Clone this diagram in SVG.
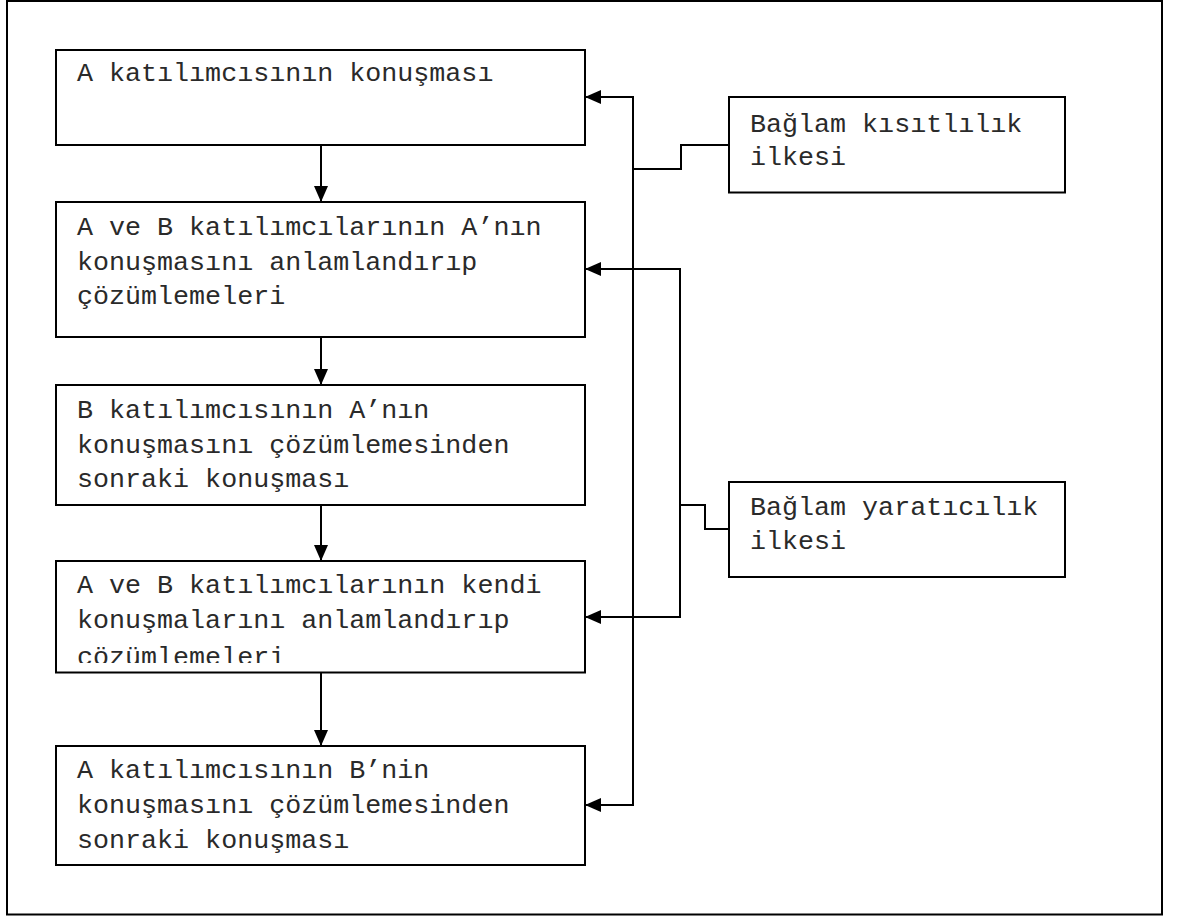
<svg xmlns="http://www.w3.org/2000/svg" width="1179" height="917" viewBox="0 0 1179 917">
  <style>
    .box { fill: #ffffff; stroke: #000000; stroke-width: 2; }
    .frame { fill: #ffffff; stroke: #000000; stroke-width: 2; }
    .lbl { font-family: "Liberation Mono", "Courier New", monospace; font-size: 26.7px; fill: #2a2a2a; }
    .wire { fill: none; stroke: #000000; stroke-width: 2; }
    .arrow { fill: none; stroke: #000000; stroke-width: 2; marker-end: url(#head); }
  </style>
  <defs>
    <marker id="head" viewBox="0 0 16 14" refX="16" refY="7" markerWidth="16" markerHeight="14" markerUnits="userSpaceOnUse" orient="auto">
      <path d="M0,0 L16,7 L0,14 Z" fill="#000000"/>
    </marker>
    <clipPath id="clip4">
      <rect x="56" y="561" width="529" height="102"/>
    </clipPath>
  </defs>

  <rect class="frame" x="7" y="1" width="1155" height="913.5"/>

  <!-- process steps -->
  <g id="step1">
    <rect class="box" x="56" y="50" width="529" height="95"/>
    <text class="lbl" x="77" y="80.7">A katılımcısının konuşması</text>
  </g>
  <g id="step2">
    <rect class="box" x="56" y="202" width="529" height="135"/>
    <text class="lbl" x="77" y="235">A ve B katılımcılarının A’nın</text>
    <text class="lbl" x="77" y="270">konuşmasını anlamlandırıp</text>
    <text class="lbl" x="77" y="304">çözümlemeleri</text>
  </g>
  <g id="step3">
    <rect class="box" x="56" y="385" width="529" height="120"/>
    <text class="lbl" x="77" y="418.3">B katılımcısının A’nın</text>
    <text class="lbl" x="77" y="453.3">konuşmasını çözümlemesinden</text>
    <text class="lbl" x="77" y="487.3">sonraki konuşması</text>
  </g>
  <g id="step4">
    <rect class="box" x="56" y="561" width="529" height="111.5"/>
    <g clip-path="url(#clip4)">
      <text class="lbl" x="77" y="593.3">A ve B katılımcılarının kendi</text>
      <text class="lbl" x="77" y="628.3">konuşmalarını anlamlandırıp</text>
      <text class="lbl" x="77" y="664.5">çözümlemeleri</text>
    </g>
  </g>
  <g id="step5">
    <rect class="box" x="56" y="746" width="529" height="119"/>
    <text class="lbl" x="77" y="778.3">A katılımcısının B’nin</text>
    <text class="lbl" x="77" y="813.3">konuşmasını çözümlemesinden</text>
    <text class="lbl" x="77" y="847.7">sonraki konuşması</text>
  </g>

  <!-- principles -->
  <g id="constraint">
    <rect class="box" x="729" y="97" width="336" height="95.5"/>
    <text class="lbl" x="750" y="131.7">Bağlam kısıtlılık</text>
    <text class="lbl" x="750" y="165">ilkesi</text>
  </g>
  <g id="creativity">
    <rect class="box" x="729" y="482" width="336" height="95"/>
    <text class="lbl" x="750" y="515">Bağlam yaratıcılık</text>
    <text class="lbl" x="750" y="549">ilkesi</text>
  </g>

  <g id="connectors">
    <!-- main flow -->
    <line class="arrow" x1="321" y1="145" x2="321" y2="202"/>
    <line class="arrow" x1="321" y1="337" x2="321" y2="385"/>
    <line class="arrow" x1="321" y1="505" x2="321" y2="561"/>
    <line class="arrow" x1="321" y1="672.5" x2="321" y2="746"/>

    <!-- constraint principle bus -->
    <polyline class="wire" points="729,145 681,145 681,169 633,169"/>
    <line class="wire" x1="633" y1="97" x2="633" y2="805"/>
    <line class="arrow" x1="634" y1="97" x2="585" y2="97"/>
    <line class="arrow" x1="634" y1="805" x2="585" y2="805"/>

    <!-- creativity principle bus -->
    <polyline class="wire" points="729,529 705,529 705,505 680,505"/>
    <line class="wire" x1="680" y1="269" x2="680" y2="617"/>
    <line class="arrow" x1="681" y1="269" x2="585" y2="269"/>
    <line class="arrow" x1="681" y1="617" x2="585" y2="617"/>
  </g>
</svg>
